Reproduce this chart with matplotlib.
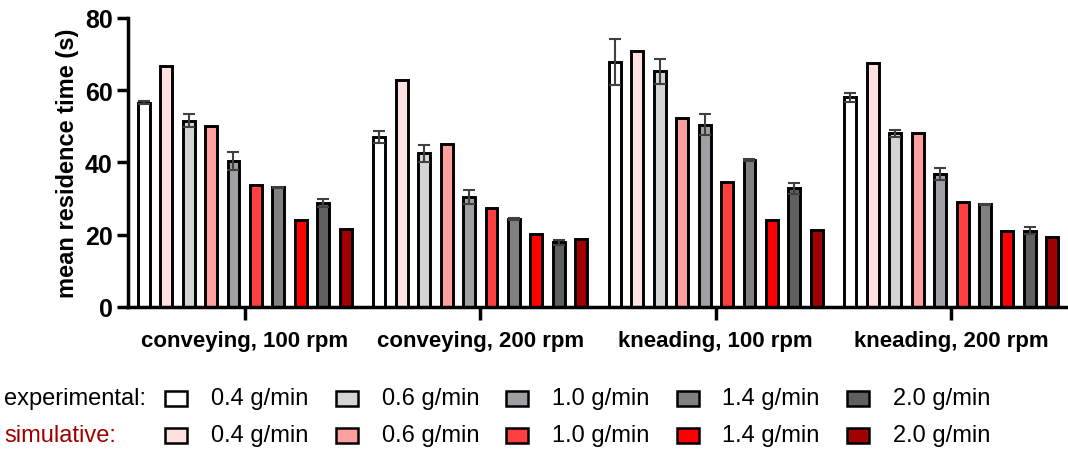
import numpy as np
import matplotlib
matplotlib.use("Agg")
import matplotlib.pyplot as plt
from matplotlib.patches import Rectangle

plt.rcParams['font.family'] = ['Liberation Sans', 'DejaVu Sans']

groups = ['conveying, 100 rpm', 'conveying, 200 rpm', 'kneading, 100 rpm', 'kneading, 200 rpm']
rates = ['0.4 g/min', '0.6 g/min', '1.0 g/min', '1.4 g/min', '2.0 g/min']

# experimental mean / error, one list per flow rate (4 groups each)
exp_mean = [
    [56.6, 47.0, 67.9, 58.0],
    [51.5, 42.5, 65.2, 48.1],
    [40.5, 30.5, 50.5, 36.8],
    [33.1, 24.4, 40.8, 28.4],
    [28.8, 17.9, 32.9, 21.1],
]
exp_err = [
    [0.3, 1.6, 6.4, 1.3],
    [1.8, 2.3, 3.5, 1.0],
    [2.5, 2.0, 2.9, 1.6],
    [0.2, 0.2, 0.3, 0.2],
    [1.2, 0.7, 1.5, 1.0],
]
sim_mean = [
    [66.8, 62.8, 70.8, 67.6],
    [50.0, 45.0, 52.4, 48.2],
    [33.7, 27.5, 34.6, 29.1],
    [24.0, 20.1, 24.0, 21.0],
    [21.5, 18.8, 21.4, 19.4],
]

exp_colors = ['#ffffff', '#d4d4d4', '#a0a0a4', '#808080', '#606060']
sim_colors = ['#ffe0e0', '#ffa0a0', '#ff4040', '#ff0000', '#a00000']

fig = plt.figure(figsize=(10.68, 4.52), dpi=100)
ax = fig.add_axes([0.1199, 0.3186, 0.8801, 0.6394])

centers = np.arange(len(groups)) * 10.5
w = 0.53
for i in range(len(rates)):
    xe = centers + (2 * i - 4.5)
    xs = centers + (2 * i + 1 - 4.5)
    ax.bar(xe, exp_mean[i], w, color=exp_colors[i], edgecolor='black', linewidth=2.1, zorder=2)
    ax.errorbar(xe, exp_mean[i], yerr=exp_err[i], fmt='none', ecolor='#404040',
                elinewidth=1.5, capsize=4, capthick=1.5, zorder=3)
    ax.bar(xs, sim_mean[i], w, color=sim_colors[i], edgecolor='black', linewidth=2.1, zorder=2)

ax.set_xlim(-5.2, centers[-1] + 5.2)
ax.set_ylim(0, 80)
ax.set_yticks([0, 20, 40, 60, 80])
ax.set_xticks(centers)
ax.set_xticklabels(groups, fontsize=16, fontweight='bold')
for t in ax.get_yticklabels():
    t.set_fontsize(18)
    t.set_fontweight('bold')
ax.set_ylabel('mean residence time (s)', fontsize=17, fontweight='bold', labelpad=4)
ax.spines['top'].set_visible(False)
ax.spines['right'].set_visible(False)
ax.spines['left'].set_linewidth(2.5)
ax.spines['bottom'].set_linewidth(2.5)
ax.tick_params(axis='y', direction='out', length=8, width=2.5, pad=3)
ax.tick_params(axis='x', direction='out', length=9.5, width=2.5, pad=7)

# legend rows
W, H = 1068.0, 452.0
rows = [(399, 'experimental:', 'black', exp_colors), (436, 'simulative:', '#a00000', sim_colors)]
for yc, title, tcol, cols in rows:
    fig.text(4 / W, 1 - yc / H, title, color=tcol, fontsize=17, va='center', ha='left')
    for j, lab in enumerate(rates):
        x0 = 165 + j * 170.5
        fig.patches.append(Rectangle((x0 / W, 1 - (yc + 7.5) / H), 22 / W, 15 / H,
                                     transform=fig.transFigure, facecolor=cols[j],
                                     edgecolor='black', linewidth=1.8))
        fig.text((x0 + 46) / W, 1 - yc / H, lab, fontsize=17, va='center', ha='left')

fig.savefig('out.png', dpi=100)
